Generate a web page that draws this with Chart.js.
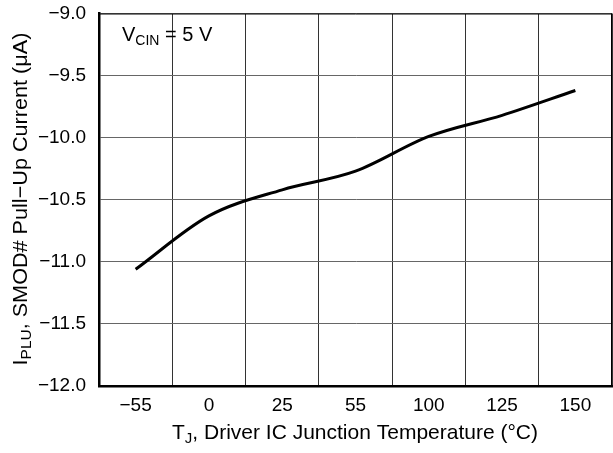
<!DOCTYPE html>
<html>
<head>
<meta charset="utf-8">
<style>
  html, body { margin: 0; padding: 0; background: #fff; }
  #wrap { width: 613px; height: 453px; position: relative; }
</style>
<script src="https://cdn.jsdelivr.net/npm/chart.js@4/dist/chart.umd.min.js"></script>
</head>
<body>
<div id="wrap"><canvas id="chart" width="613" height="453"></canvas></div>
<script>
/* Pull-up current vs junction temperature */
var TEMP_LABELS = ['\u221255', '0', '25', '55', '100', '125', '150'];
var CURRENT_UA  = [-11.06, -10.63, -10.42, -10.27, -9.99, -9.82, -9.62];
var Y_MIN = -12.0;
var Y_MAX = -9.0;
var Y_STEP = 0.5;

(function () {
  'use strict';

  var FONT = '"Liberation Sans", Arial, Helvetica, sans-serif';
  var INK = '#000';

  function fmtTick(v) {
    var s = Math.abs(v).toFixed(1);
    return v < 0 ? '\u2212' + s : s;
  }

  /* parts are [text, isSub]; main/sub font sizes, horizontal stretch */
  function partsWidth(ctx, parts, big, small, hs) {
    var w = 0;
    parts.forEach(function (p) {
      ctx.font = (p[1] ? small : big) + 'px ' + FONT;
      w += ctx.measureText(p[0]).width * hs;
    });
    return w;
  }

  function drawParts(ctx, parts, x, y, big, small, hs) {
    parts.forEach(function (p) {
      ctx.font = (p[1] ? small : big) + 'px ' + FONT;
      ctx.save();
      ctx.translate(x, y + (p[1] ? 4 : 0));
      ctx.scale(hs, 1);
      ctx.fillText(p[0], 0, 0);
      ctx.restore();
      x += ctx.measureText(p[0]).width * hs;
    });
  }

  var labelsPlugin = {
    id: 'labels',
    afterDraw: function (chart) {
      var ctx = chart.ctx;
      var a = chart.chartArea;
      ctx.save();

      /* thin top/right frame */
      ctx.strokeStyle = INK;
      ctx.lineWidth = 1;
      ctx.beginPath();
      ctx.moveTo(a.left, a.top + 0.5);
      ctx.lineTo(a.right, a.top + 0.5);
      ctx.moveTo(a.right - 0.5, a.top);
      ctx.lineTo(a.right - 0.5, a.bottom);
      ctx.stroke();

      ctx.fillStyle = INK;
      ctx.textBaseline = 'alphabetic';
      ctx.textAlign = 'left';

      /* condition note */
      var note = [['V', false], ['CIN', true], [' = 5 V', false]];
      drawParts(ctx, note, 122, 41, 20, 14, 1.0);

      /* x title */
      var xt = [['T', false], ['J', true], [', Driver IC Junction Temperature (\u00b0C)', false]];
      var xw = partsWidth(ctx, xt, 21, 15, 1.0);
      drawParts(ctx, xt, 355 - xw / 2, 439, 21, 15, 1.0);

      /* y title, rotated */
      var yt = [['I', false], ['PLU', true], [', SMOD# Pull\u2212Up Current (\u03bcA)', false]];
      var yw = partsWidth(ctx, yt, 21, 15, 1.03);
      ctx.translate(27, 199);
      ctx.rotate(-Math.PI / 2);
      drawParts(ctx, yt, -yw / 2, 0, 21, 15, 1.03);

      ctx.restore();
    }
  };

  new Chart(document.getElementById('chart'), {
    type: 'line',
    data: {
      labels: TEMP_LABELS,
      datasets: [{
        data: CURRENT_UA,
        borderColor: INK,
        borderWidth: 3,
        pointRadius: 0,
        cubicInterpolationMode: 'monotone',
        fill: false
      }]
    },
    options: {
      responsive: false,
      animation: false,
      layout: { padding: { top: 13.5, right: 1, left: 0, bottom: 0 } },
      plugins: { legend: { display: false }, tooltip: { enabled: false } },
      scales: {
        x: {
          type: 'category',
          offset: true,
          grid: { offset: true, color: '#333', lineWidth: 1, drawTicks: false },
          border: { color: INK, width: 2.5 },
          ticks: { color: INK, padding: 8, font: { family: FONT, size: 19 }, maxRotation: 0 },
          afterFit: function (s) { s.height = 67; s.paddingLeft = 0; s.paddingRight = 0; }
        },
        y: {
          min: Y_MIN,
          max: Y_MAX,
          grid: { color: '#666', lineWidth: 1, drawTicks: false },
          border: { color: INK, width: 2.5 },
          ticks: {
            stepSize: Y_STEP,
            color: INK,
            padding: 13,
            font: { family: FONT, size: 19 },
            callback: function (v) { return fmtTick(v); }
          },
          afterFit: function (s) { s.width = 99; s.paddingTop = 0; s.paddingBottom = 0; }
        }
      }
    },
    plugins: [labelsPlugin]
  });
})();
</script>
</body>
</html>
